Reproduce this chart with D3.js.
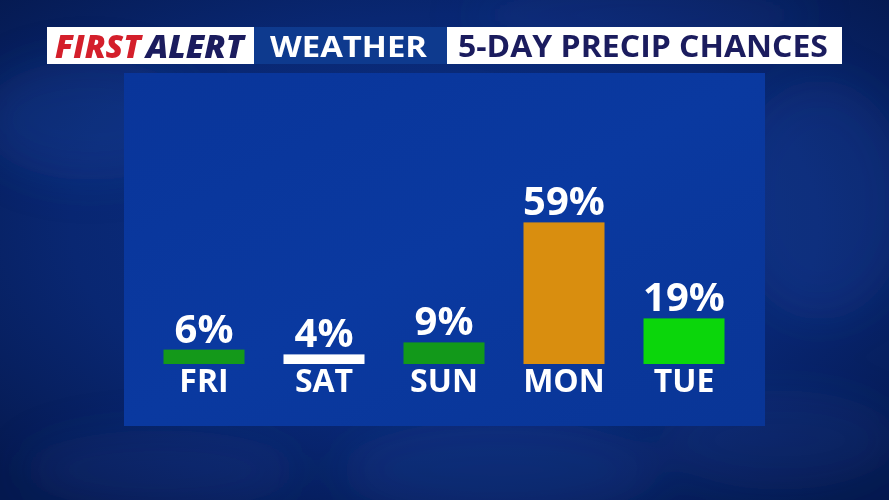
<!DOCTYPE html>
<html>
<head>
<meta charset="utf-8">
<script src="https://cdn.jsdelivr.net/npm/d3@7"></script>
<style>
  body { margin: 0; background: #06205e; }
  svg { display: block; }
</style>
</head>
<body>
<div id="chart"></div>
<script>
// data read from the graphic
var days = ["FRI", "SAT", "SUN", "MON", "TUE"];
var chances = [6, 4, 9, 59, 19];
var barColors = ["#14991a", "#ffffff", "#12991a", "#d98e0f", "#0bd60b"];

var W = 889, H = 500;

var svg = d3.select("#chart")
  .append("svg")
    .attr("width", W)
    .attr("height", H);

var defs = svg.append("defs");

// background gradient
var bg = defs.append("radialGradient")
  .attr("id", "bg")
  .attr("cx", "50%").attr("cy", "45%").attr("r", "70%");
bg.append("stop").attr("offset", "0%").attr("stop-color", "#0c3288");
bg.append("stop").attr("offset", "60%").attr("stop-color", "#092772");
bg.append("stop").attr("offset", "100%").attr("stop-color", "#05194f");

var panelGrad = defs.append("linearGradient")
  .attr("id", "panel")
  .attr("x1", "0").attr("y1", "0").attr("x2", "1").attr("y2", "1");
panelGrad.append("stop").attr("offset", "0%").attr("stop-color", "#09359a");
panelGrad.append("stop").attr("offset", "50%").attr("stop-color", "#0a39a0");
panelGrad.append("stop").attr("offset", "100%").attr("stop-color", "#093596");

defs.append("filter").attr("id", "blur")
  .attr("x", "-50%").attr("y", "-50%").attr("width", "200%").attr("height", "200%")
  .append("feGaussianBlur").attr("stdDeviation", 22);

svg.append("rect")
  .attr("width", W).attr("height", H)
  .attr("fill", "url(#bg)");

// faint clouds
var clouds = [
  {x: 90, y: 120, rx: 110, ry: 60, o: 0.18},
  {x: 820, y: 200, rx: 90, ry: 120, o: 0.15},
  {x: 500, y: 470, rx: 160, ry: 50, o: 0.14},
  {x: 160, y: 470, rx: 140, ry: 40, o: 0.12},
  {x: 780, y: 440, rx: 120, ry: 50, o: 0.10},
  {x: 640, y: 15, rx: 180, ry: 25, o: 0.12}
];
svg.append("g").attr("filter", "url(#blur)")
  .selectAll("ellipse")
  .data(clouds)
  .enter()
  .append("ellipse")
    .attr("cx", function(d) { return d.x; })
    .attr("cy", function(d) { return d.y; })
    .attr("rx", function(d) { return d.rx; })
    .attr("ry", function(d) { return d.ry; })
    .attr("fill", "#2a5cc0")
    .attr("opacity", function(d) { return d.o; });

// chart panel
svg.append("rect")
  .attr("x", 124).attr("y", 73)
  .attr("width", 641).attr("height", 353)
  .attr("fill", "url(#panel)");

// header boxes
svg.append("rect").attr("x", 47).attr("y", 27).attr("width", 207).attr("height", 37).attr("fill", "#ffffff");
svg.append("rect").attr("x", 254).attr("y", 27).attr("width", 193).attr("height", 37).attr("fill", "#0e3a8e");
svg.append("rect").attr("x", 447).attr("y", 27).attr("width", 395).attr("height", 37).attr("fill", "#ffffff");

var font = "'Open Sans', 'Noto Sans', sans-serif";

svg.append("text")
  .attr("x", 55).attr("y", 58)
  .attr("font-family", font).attr("font-weight", 800).attr("font-style", "italic")
  .attr("font-size", 32).attr("fill", "#d41f2b")
  .attr("textLength", 86).attr("lengthAdjust", "spacingAndGlyphs")
  .text("FIRST");
svg.append("text")
  .attr("x", 146).attr("y", 58)
  .attr("font-family", font).attr("font-weight", 800).attr("font-style", "italic")
  .attr("font-size", 32).attr("fill", "#1b1c5e")
  .attr("textLength", 98).attr("lengthAdjust", "spacingAndGlyphs")
  .text("ALERT");
svg.append("text")
  .attr("x", 270).attr("y", 57)
  .attr("font-family", font).attr("font-weight", 700)
  .attr("font-size", 29).attr("fill", "#ffffff")
  .attr("textLength", 157).attr("lengthAdjust", "spacingAndGlyphs")
  .text("WEATHER");
svg.append("text")
  .attr("x", 458).attr("y", 57)
  .attr("font-family", font).attr("font-weight", 700)
  .attr("font-size", 30).attr("fill", "#1b1c5e")
  .attr("textLength", 370).attr("lengthAdjust", "spacingAndGlyphs")
  .text("5-DAY PRECIP CHANCES");

// scales
var x = d3.scaleBand()
  .domain(days)
  .range([144, 744])
  .paddingInner(0.325)
  .paddingOuter(0.1625);

var y = d3.scaleLinear()
  .domain([0, 100])
  .range([364, 124]);

var data = days.map(function(d, i) { return {day: d, value: chances[i], color: barColors[i]}; });

var g = svg.append("g");

g.selectAll("rect.bar")
  .data(data)
  .enter()
  .append("rect")
    .attr("class", "bar")
    .attr("x", function(d) { return x(d.day); })
    .attr("y", function(d) { return y(d.value); })
    .attr("width", x.bandwidth())
    .attr("height", function(d) { return y(0) - y(d.value); })
    .attr("fill", function(d) { return d.color; });

g.selectAll("text.val")
  .data(data)
  .enter()
  .append("text")
    .attr("class", "val")
    .attr("x", function(d) { return x(d.day) + x.bandwidth() / 2; })
    .attr("y", function(d) { return y(d.value) - 7; })
    .attr("text-anchor", "middle")
    .attr("font-family", font).attr("font-weight", 700)
    .attr("font-size", 40).attr("fill", "#ffffff")
    .text(function(d) { return d.value + "%"; });

// day labels
var xAxis = g.append("g")
  .attr("transform", "translate(0,364)")
  .call(d3.axisBottom(x).tickSize(0).tickPadding(28));
xAxis.select(".domain").remove();
xAxis.selectAll("text")
  .attr("font-family", font).attr("font-weight", 700)
  .attr("font-size", 32).attr("fill", "#ffffff")
  .attr("dy", 0);
</script>
</body>
</html>
